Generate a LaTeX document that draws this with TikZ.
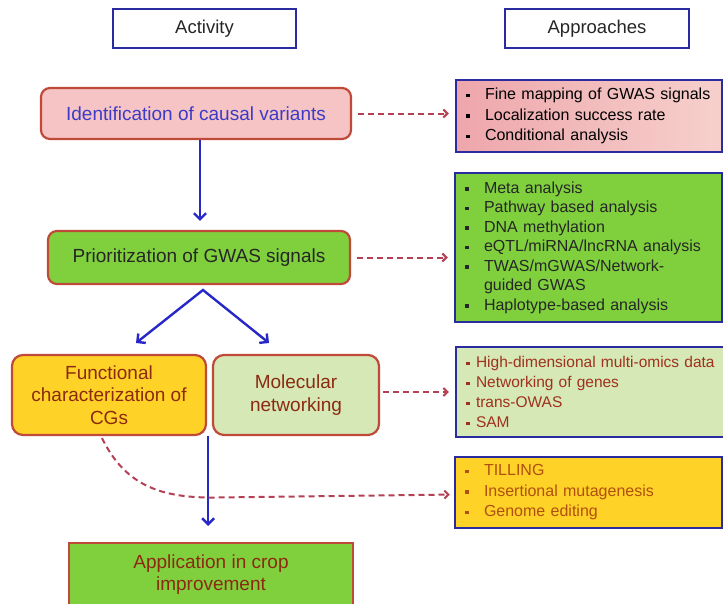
\documentclass[tikz,border=0pt]{standalone}
\usepackage{fontspec}
\setmainfont{Liberation Sans}
\usetikzlibrary{arrows.meta,calc}
\definecolor{hdrblue}{RGB}{43,43,160}
\definecolor{arrblue}{RGB}{40,40,200}
\definecolor{boxred}{RGB}{192,74,58}
\definecolor{dashred}{RGB}{180,64,84}
\definecolor{pinkfill}{RGB}{246,196,196}
\definecolor{pinkL}{RGB}{238,166,172}
\definecolor{pinkR}{RGB}{246,208,204}
\definecolor{greenfill}{RGB}{128,208,62}
\definecolor{yellowfill}{RGB}{255,210,40}
\definecolor{lgreenfill}{RGB}{213,232,181}
\definecolor{idtext}{RGB}{59,59,200}
\definecolor{dredtext}{RGB}{139,42,16}
\definecolor{box3text}{RGB}{160,48,32}
\definecolor{box4text}{RGB}{176,80,16}
\newcommand\bsq{\makebox[20pt][l]{\hspace*{1pt}\raisebox{0.3ex}{\rule{3.5pt}{3.5pt}}}}
\newcommand\bsqn{\makebox[11pt][l]{\hspace*{1pt}\raisebox{0.3ex}{\rule{3.5pt}{3.5pt}}}}
\tikzset{
  hdr/.style={draw=hdrblue, line width=2.4pt, fill=white, inner sep=0pt,
    text=black!85, font=\fontsize{18.5}{22}\selectfont},
  actbox/.style={draw=boxred, line width=2.2pt, inner sep=0pt, align=center,
    font=\fontsize{19}{22.5}\selectfont},
  appbox/.style={draw=hdrblue, line width=2.4pt, inner ysep=0pt, inner xsep=9pt,
    align=left, anchor=center},
  bluearrow/.style={draw=arrblue, line width=2.4pt, -{Straight Barb[length=6pt,width=12pt,line width=2.4pt]}},
  dasharrow/.style={draw=dashred, line width=2pt, dash pattern=on 6pt off 4pt,
    -{Straight Barb[length=4pt,width=8pt,line width=2pt]}}
}
\begin{document}
\begin{tikzpicture}[x=1pt,y=-1pt]
\useasboundingbox (0,0) rectangle (723,603);

% headers
\node[hdr, minimum width=183pt, minimum height=39pt] (act) at (204.5,28.5) {Activity};
\node[hdr, minimum width=184pt, minimum height=39pt] (appr) at (597,28.5) {Approaches};

% activity boxes
\node[actbox, fill=pinkfill, rounded corners=9pt, minimum width=310pt, minimum height=51pt,
  text=idtext] (ident) at (196,113.5) {Identification of causal variants};
\node[actbox, fill=greenfill, rounded corners=9pt, minimum width=302pt, minimum height=53pt,
  text=black!85] (prior) at (199,257.5) {Prioritization of GWAS signals};
\node[actbox, fill=yellowfill, rounded corners=11pt, minimum width=194pt, minimum height=80pt,
  text=dredtext] (func) at (109,395) {Functional\\characterization of\\CGs};
\node[actbox, fill=lgreenfill, rounded corners=11pt, minimum width=166pt, minimum height=80pt,
  text=dredtext] (mol) at (296,395) {Molecular\\networking};
\node[actbox, fill=greenfill, minimum width=284pt, minimum height=63pt,
  text=dredtext] (app) at (211,574.5) {Application in crop\\improvement};

% approach boxes
\node[appbox, left color=pinkL, right color=pinkR, minimum width=266pt, minimum height=72pt,
  text width=248pt, text=black, font=\fontsize{16}{20.5}\selectfont] (b1) at (589,116)
  {\bsq Fine mapping of GWAS signals\\\bsq Localization success rate\\\bsq Conditional analysis};
\node[appbox, fill=greenfill, minimum width=267pt, minimum height=149pt,
  text width=249pt, text=black!85, font=\fontsize{16}{19.5}\selectfont] (b2) at (588.5,247.5)
  {\bsq Meta analysis\\\bsq Pathway based analysis\\\bsq DNA methylation\\\bsq eQTL/miRNA/lncRNA analysis\\\bsq TWAS/mGWAS/Network-\\\hspace*{20pt}guided GWAS\\\bsq Haplotype-based analysis};
\node[appbox, fill=lgreenfill, minimum width=272pt, minimum height=90pt,
  text width=254pt, text=box3text, font=\fontsize{15.5}{20}\selectfont] (b3) at (592,392)
  {\bsqn High-dimensional multi-omics data\\\bsqn Networking of genes\\\bsqn trans-OWAS\\\bsqn SAM};
\node[appbox, fill=yellowfill, minimum width=267pt, minimum height=71pt,
  text width=249pt, text=box4text, font=\fontsize{16}{20.5}\selectfont] (b4) at (588.5,492.5)
  {\bsq TILLING\\\bsq Insertional mutagenesis\\\bsq Genome editing};

% blue arrows
\draw[bluearrow, shorten >=9pt] ([xshift=4pt]ident.south) -- ([xshift=4pt]ident.south |- prior.north);
\coordinate (apex) at (203,290);
\coordinate (tipL) at (136,343);
\coordinate (tipR) at (269,343);
\draw[draw=arrblue, line width=2.4pt, line join=miter,
  {Straight Barb[length=6pt,width=12pt,line width=2.4pt]}-{Straight Barb[length=6pt,width=12pt,line width=2.4pt]}]
  (tipL) -- (apex) -- (tipR);
\draw[bluearrow, shorten >=16pt] ([xshift=1pt]func.south east) -- ([xshift=1pt]func.south east |- app.north);

% dashed arrows
\draw[dasharrow, shorten <=6pt, shorten >=6pt] (ident.east) -- (ident.east -| b1.west);
\draw[dasharrow, shorten <=6pt, shorten >=6pt] (prior.east) -- (prior.east -| b2.west);
\draw[dasharrow, shorten <=3pt, shorten >=6pt] ([yshift=3pt]mol.east) -- ([yshift=3pt]mol.east -| b3.west);
\draw[dasharrow, shorten >=4pt] ([xshift=-7pt,yshift=-2pt]func.south) .. controls (125,485) and (160,498) .. (215,497.5) -- ([yshift=-2pt]b4.west);
\end{tikzpicture}
\end{document}
